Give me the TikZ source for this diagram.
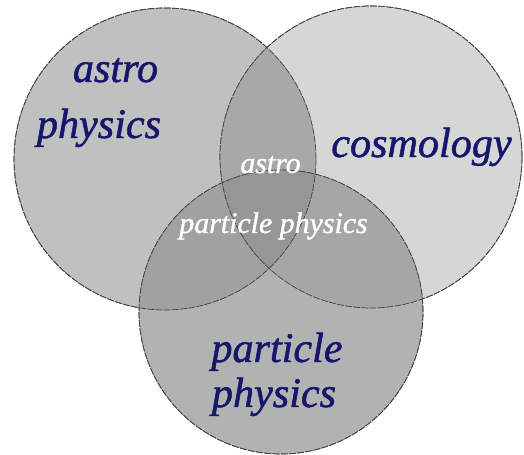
\documentclass[tikz,border=0pt]{standalone}
\usepackage{fontspec}
\setmainfont{Liberation Serif}
\newfontfamily\heavyserif{Liberation Serif}[ItalicFeatures={FakeBold=1.2}]
\usepackage{tikz}
\usetikzlibrary{positioning}
\definecolor{navy}{RGB}{22,22,108}
\definecolor{onlyA}{RGB}{192,192,192}
\definecolor{onlyC}{RGB}{214,214,214}
\definecolor{onlyP}{RGB}{178,178,178}
\definecolor{areaAC}{RGB}{168,168,168}
\definecolor{areaAP}{RGB}{161,161,161}
\definecolor{areaCP}{RGB}{166,166,166}
\definecolor{areaACP}{RGB}{150,150,150}
\tikzstyle{field} = [circle, draw=black!75, line width=0.4pt, dash pattern=on 4pt off 0.7pt, inner sep=0pt]
\tikzstyle{big} = [text=navy, font=\fontsize{24}{28}\selectfont\heavyserif\itshape, anchor=base]
\tikzstyle{small} = [text=white, font=\fontsize{17}{20}\selectfont\heavyserif\itshape, anchor=base]

\begin{document}
\begin{tikzpicture}
	\useasboundingbox (0,0) rectangle (10.48,9.10);
	\fill[white] (0,0) rectangle (10.48,9.10);
	% the three fields
	\node (astro) [field, minimum size=6.04cm, fill=onlyA] at (3.30,5.92) {};
	\node (cosmo) [field, minimum size=6.04cm, fill=onlyC] at (7.42,5.96) {};
	\begin{scope}
		\clip (3.30,5.92) circle (3.02);
		\fill[areaAC] (7.42,5.96) circle (3.02);
	\end{scope}
	\node (part) [field, minimum size=5.68cm, fill=onlyP] at (5.62,2.86) {};
	\begin{scope}
		\clip (5.62,2.86) circle (2.84);
		\fill[areaAP] (3.30,5.92) circle (3.02);
		\fill[areaCP] (7.42,5.96) circle (3.02);
		\clip (3.30,5.92) circle (3.02);
		\fill[areaACP] (7.42,5.96) circle (3.02);
	\end{scope}
	\draw[field] (astro.center) circle (3.02);
	\draw[field] (cosmo.center) circle (3.02);
	\draw[field] (part.center) circle (2.84);
	% labels
	\node (l1) [big] at (2.31,7.46) {astro};
	\node (l2) [big] at (1.98,6.34) {physics};
	\node (l3) [big] at (8.43,5.96) {cosmology};
	\node (l4) [big] at (5.54,1.86) {particle};
	\node (l5) [big] at (5.48,0.96) {physics};
	\node (m1) [small] at (5.41,5.64) {astro};
	\node (m2) [small] at (5.47,4.44) {particle physics};
\end{tikzpicture}
\end{document}
